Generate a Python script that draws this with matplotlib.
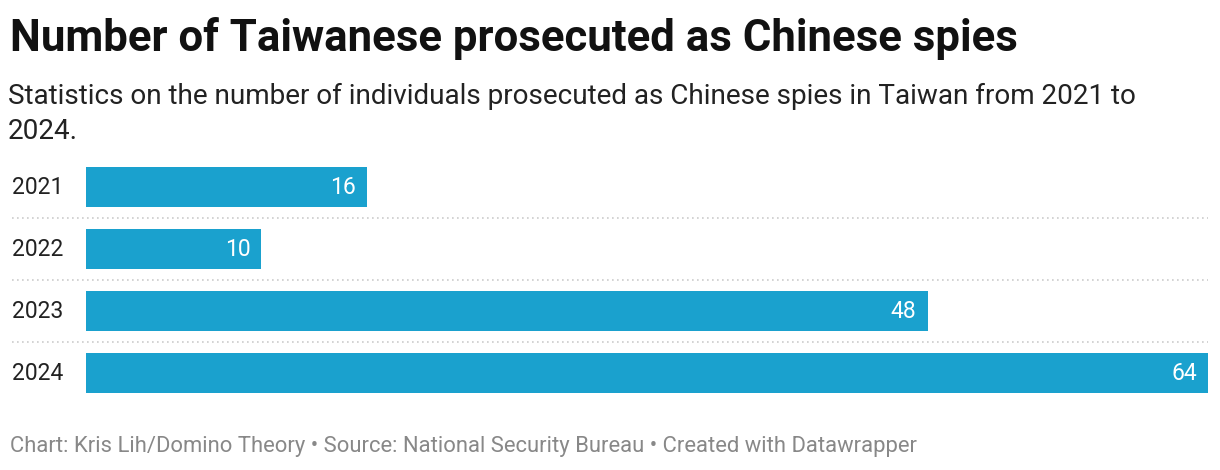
import matplotlib.pyplot as plt
from matplotlib import transforms

plt.rcParams['font.family'] = ['Roboto', 'DejaVu Sans']

years = ['2021', '2022', '2023', '2024']
prosecuted = [16, 10, 48, 64]

title = 'Number of Taiwanese prosecuted as Chinese spies'
subtitle = ('Statistics on the number of individuals prosecuted as Chinese spies in Taiwan from 2021 to\n'
            '2024.')
footer = 'Chart: Kris Lih/Domino Theory \u2022 Source: National Security Bureau \u2022 Created with Datawrapper'

W, H = 1220, 470
bar_color = '#1aa1ce'

fig = plt.figure(figsize=(W / 100, H / 100), dpi=100)
ax = fig.add_axes([86 / W, 1 - 404 / H, 1122 / W, 248 / H])

pos = list(range(len(years)))
ax.barh(pos, prosecuted, height=40 / 62, color=bar_color)
ax.set_xlim(0, 64)
ax.set_ylim(len(years) - 0.5, -0.5)
ax.axis('off')

# value labels inside the bars
for p, v in zip(pos, prosecuted):
    ax.annotate(str(v), (v, p), xytext=(-8, 0), textcoords='offset points',
                ha='right', va='center', color='white', fontsize=16.5)

# year labels on the left edge of the figure
lab_tr = transforms.blended_transform_factory(fig.transFigure, ax.transData)
for p, y in zip(pos, years):
    ax.text(12 / W, p, y, transform=lab_tr, ha='left', va='center',
            fontsize=16.5, color='#222222')

# dotted separators between rows
for p in pos[:-1]:
    ax.plot([12 / W, 1208 / W], [p + 0.5, p + 0.5], transform=lab_tr,
            color='#cccccc', lw=1.2, ls=(0, (1, 2)), clip_on=False)

fig.text(10 / W, 1 - 51 / H, title, fontsize=31.5, fontweight='bold',
         color='#111111', ha='left', va='baseline')
fig.text(8 / W, 1 - 139 / H, subtitle, fontsize=20.1, color='#222222',
         ha='left', va='baseline', linespacing=1.38)
fig.text(10 / W, 1 - 452 / H, footer, fontsize=15.8, color='#888888',
         ha='left', va='baseline')

fig.savefig('out.png', dpi=100, facecolor='white')
